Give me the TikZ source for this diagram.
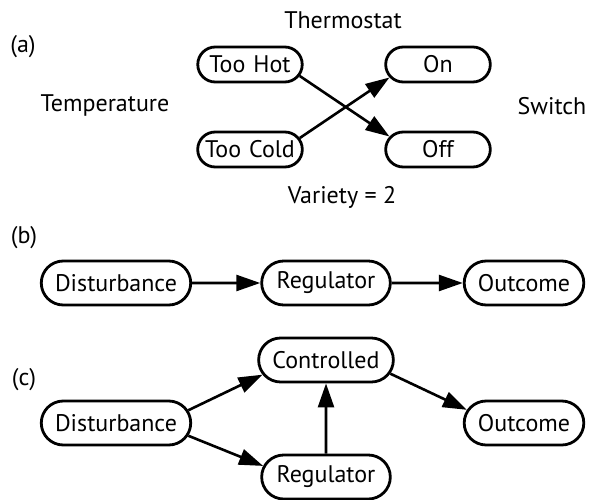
\documentclass[tikz,border=0pt]{standalone}
\usepackage{fontspec}
\setmainfont{PT Sans}
\usetikzlibrary{positioning}
\usetikzlibrary{shapes.misc}
\usetikzlibrary{arrows.meta}
\tikzset{state/.style={rounded rectangle, draw, line width=2.8pt,
minimum height=35pt, text width=92pt, align=center, inner xsep=4pt},
block/.style={rounded rectangle, draw, line width=2.8pt,
minimum height=44pt, inner xsep=12pt},
link/.style={line width=2.6pt, -{Triangle[length=24pt,width=16pt]}},
lbl/.style={inner sep=0pt}}
\begin{document}
\begin{tikzpicture}[x=1pt, y=-1pt, font=\fontsize{24}{28}\selectfont]
\useasboundingbox (0,0) rectangle (589,500);
% (a) thermostat
\node[lbl] (tag a) at (23,47) {(a)};
\node[lbl] (thermo) at (343,20) {Thermostat};
\node[lbl] (temp) at (105,106) {Temperature};
\node[lbl] (switch) at (552,106) {Switch};
\node[state] (hot) at (250,64.5) {Too Hot};
\node[state] (cold) at (250,149.5) {Too Cold};
\node[state] (on) at (438,64.5) {On};
\node[state] (off) at (438,149.5) {Off};
\node[lbl] (variety) at (342,197) {Variety = 2};
\draw[link] (hot.-13) -- (off.165);
\draw[link] (cold.13) -- (on.195);
% (b) chain
\node[lbl] (tag b) at (24,238) {(b)};
\node[block] (dist b) at (116,283) {Disturbance};
\node[block] (reg b) at (326,283) {Regulator};
\node[block] (out b) at (524,283) {Outcome};
\draw[link] (dist b) -- (reg b);
\draw[link] (reg b) -- (out b);
% (c) control
\node[lbl] (tag c) at (24,380) {(c)};
\node[block] (dist c) at (116,423) {Disturbance};
\node[block] (ctrl c) at (326,360) {Controlled};
\node[block] (reg c) at (326,477) {Regulator};
\node[block] (out c) at (524,423) {Outcome};
\draw[link] (dist c.10) -- (ctrl c.193);
\draw[link] (dist c.-10) -- (reg c.170);
\draw[link] (reg c) -- (ctrl c);
\draw[link] (ctrl c.-12) -- (out c.167);
\end{tikzpicture}
\end{document}
